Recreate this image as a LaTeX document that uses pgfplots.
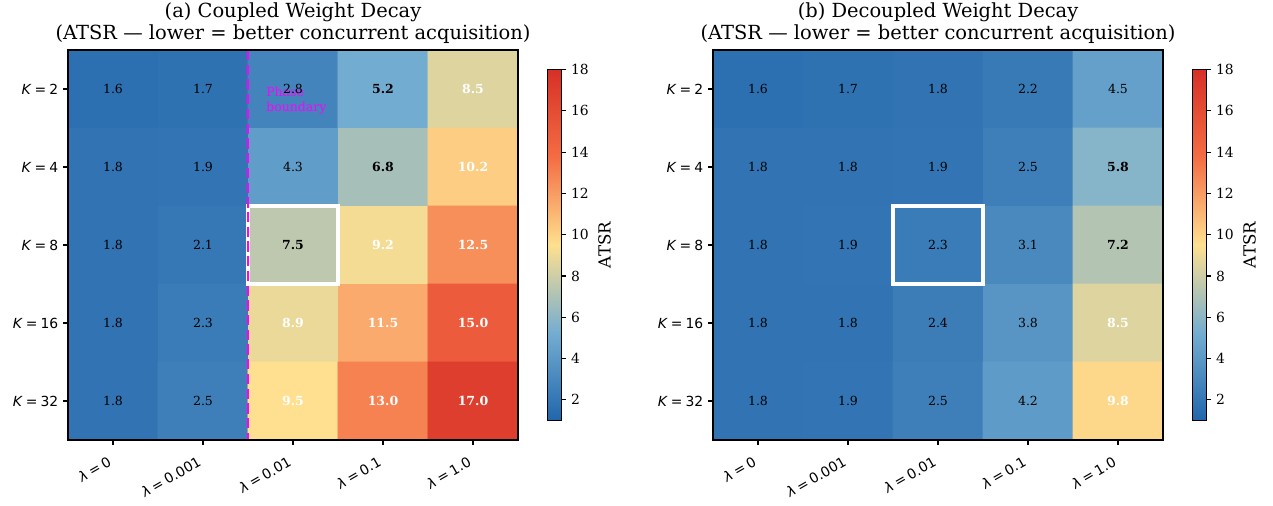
\documentclass[border=0pt]{standalone}
\usepackage{pgfplots}
\pgfplotsset{compat=1.18}
\usepackage{pgfplotstable}
\usepackage{fontspec}
\setmainfont{DejaVu Serif}
\newfontfamily\dvs{DejaVu Sans}
\definecolor{pmag}{RGB}{255,0,255}
\newcommand{\eq}{\hspace{0.22em}=\hspace{0.22em}}
\pgfplotsset{
  /pgf/number format/assume math mode=true,
  colormap={atsr}{rgb255(1cm)=(33,102,172) rgb255(5.25cm)=(116,173,209) rgb255(9.5cm)=(254,224,144) rgb255(13.75cm)=(244,109,67) rgb255(18cm)=(215,48,39)},
}

% w: 0 = regular black label, 1 = bold black label, 2 = bold white label
\pgfplotstableread{
x y v w
0 0 1.6 0
1 0 1.7 0
2 0 2.8 0
3 0 5.2 1
4 0 8.5 2
0 1 1.8 0
1 1 1.9 0
2 1 4.3 0
3 1 6.8 1
4 1 10.2 2
0 2 1.8 0
1 2 2.1 0
2 2 7.5 1
3 2 9.2 2
4 2 12.5 2
0 3 1.8 0
1 3 2.3 0
2 3 8.9 2
3 3 11.5 2
4 3 15.0 2
0 4 1.8 0
1 4 2.5 0
2 4 9.5 2
3 4 13.0 2
4 4 17.0 2
}\coupled

\pgfplotstableread{
x y v w
0 0 1.6 0
1 0 1.7 0
2 0 1.8 0
3 0 2.2 0
4 0 4.5 0
0 1 1.8 0
1 1 1.8 0
2 1 1.9 0
3 1 2.5 0
4 1 5.8 1
0 2 1.8 0
1 2 1.9 0
2 2 2.3 0
3 2 3.1 0
4 2 7.2 1
0 3 1.8 0
1 3 1.8 0
2 3 2.4 0
3 3 3.8 0
4 3 8.5 2
0 4 1.8 0
1 4 1.9 0
2 4 2.5 0
3 4 4.2 0
4 4 9.8 2
}\decoupled

\pgfplotsset{
  hm/.style={
    scale only axis,
    width=324pt, height=280.8pt,
    anchor=south west,
    xmin=-0.5, xmax=4.5, ymin=-0.5, ymax=4.5,
    y dir=reverse,
    enlargelimits=false,
    axis on top,
    colormap name=atsr,
    point meta min=1, point meta max=18,
    xtick={0,1,2,3,4}, ytick={0,1,2,3,4},
    xticklabels={{\textit{λ}\eq 0},{\textit{λ}\eq 0.001},{\textit{λ}\eq 0.01},{\textit{λ}\eq 0.1},{\textit{λ}\eq 1.0}},
    yticklabels={{\textit{K}\eq 2},{\textit{K}\eq 4},{\textit{K}\eq 8},{\textit{K}\eq 16},{\textit{K}\eq 32}},
    xtick pos=left, ytick pos=left,
    tick align=outside,
    major tick length=3.5pt,
    tick style={black, line width=0.8pt},
    axis line style={line width=0.8pt},
    xticklabel style={rotate=30, anchor=north east, font=\dvs\fontsize{10}{12}\selectfont, inner sep=2pt, xshift=-5.6pt, yshift=-2.5pt},
    yticklabel style={font=\dvs\fontsize{10}{12}\selectfont},
    title style={align=center, font=\fontsize{14}{16}\selectfont, yshift=-5pt},
    colorbar,
    colorbar style={
      at={(parent axis.east)}, anchor=west, xshift=13pt,
      scale only axis,
      width=9.7pt, height=252.7pt,
      ytick={2,4,...,18},
      ytick pos=right,
      tick align=outside,
      major tick length=3.5pt,
      tick style={black, line width=0.8pt},
      axis line style={line width=0.8pt},
      yticklabel style={font=\fontsize{10}{12}\selectfont},
      ylabel={ATSR},
      ylabel style={font=\fontsize{12}{14}\selectfont},
    },
  },
  lbl/.style={draw=none, mark=none, point meta=explicit,
    restrict expr to domain={\thisrow{w}}{#1:#1},
    nodes near coords={\pgfmathprintnumber[fixed,fixed zerofill,precision=1]{\pgfplotspointmeta}},
    nodes near coords style={anchor=center, font=\fontsize{9}{10}\selectfont, inner sep=0pt},
  },
  lblb/.style={lbl=1, nodes near coords style={font=\fontsize{9}{10}\selectfont\bfseries}},
  lblw/.style={lbl=2, nodes near coords style={font=\fontsize{9}{10}\selectfont\bfseries, text=white}},
}

\begin{document}
\begin{tikzpicture}
\begin{axis}[hm, at={(48.96pt,47.52pt)},
  title={(a) Coupled Weight Decay\\(ATSR — lower = better concurrent acquisition)}]
\addplot[matrix plot*, mesh/cols=5, point meta=explicit] table[x=x,y=y,meta=v]{\coupled};
\addplot[lbl=0] table[x=x,y=y,meta=v]{\coupled};
\addplot[lblb] table[x=x,y=y,meta=v]{\coupled};
\addplot[lblw] table[x=x,y=y,meta=v]{\coupled};
\draw[white, line width=3pt] (axis cs:1.5,1.5) rectangle (axis cs:2.5,2.5);
\draw[pmag, line width=2pt, dash pattern=on 7.4pt off 3.2pt] (axis cs:1.5,-0.5) -- (axis cs:1.5,4.5);
\node[pmag, anchor=west, align=left, font=\fontsize{9}{10.5}\selectfont, inner sep=0pt] at (axis cs:1.7,0.15) {Phase\\boundary};
\end{axis}
\begin{axis}[hm, at={(513.36pt,47.52pt)},
  title={(b) Decoupled Weight Decay\\(ATSR — lower = better concurrent acquisition)}]
\addplot[matrix plot*, mesh/cols=5, point meta=explicit] table[x=x,y=y,meta=v]{\decoupled};
\addplot[lbl=0] table[x=x,y=y,meta=v]{\decoupled};
\addplot[lblb] table[x=x,y=y,meta=v]{\decoupled};
\addplot[lblw] table[x=x,y=y,meta=v]{\decoupled};
\draw[white, line width=3pt] (axis cs:1.5,1.5) rectangle (axis cs:2.5,2.5);
\end{axis}
\pgfresetboundingbox
\path[use as bounding box] (0,0) rectangle (916.56pt,364.32pt);
\end{tikzpicture}
\end{document}
